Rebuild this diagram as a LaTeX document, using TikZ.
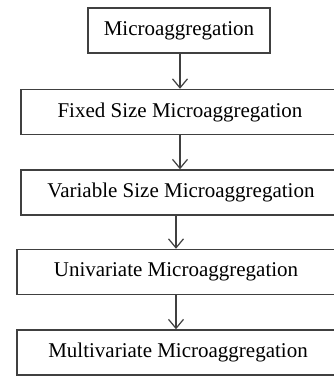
\documentclass[tikz,border=0pt]{standalone}
\usepackage{fontspec}
\setmainfont{Liberation Serif}
\usetikzlibrary{arrows.meta}
\definecolor{boxline}{HTML}{404040}
\tikzset{
  level box/.style={
    rectangle,
    draw=boxline,
    line width=1.5pt,
    minimum width=#1,
    minimum height=45pt,
    anchor=center,
    align=center,
    inner sep=0pt,
    font=\fontsize{21}{25}\selectfont,
  },
  level box/.default=318pt,
  level arrow/.style={
    draw=boxline,
    line width=1.2pt,
    -{Straight Barb[length=9pt,width=15pt]}
  }
}

\begin{document}
\begin{tikzpicture}[x=1pt,y=-1pt]
\useasboundingbox (0,0) rectangle (334,376);
\clip (0,0) rectangle (334,376);
\node[level box=182pt] (micro)  at (179,30.5) {Microaggregation};
\node[level box=318pt] (fixed)  at (180,112)  {Fixed Size Microaggregation};
\node[level box=320pt] (var)    at (181,192.5) {Variable Size Microaggregation};
\node[level box=318pt] (uni)    at (176,272)  {Univariate Microaggregation};
\node[level box=322pt] (multi)  at (178,352.5) {Multivariate Microaggregation};
% arrows between levels
\draw[level arrow] (micro.south -| fixed.north) -- (fixed.north);
\draw[level arrow] (fixed.south) -- (fixed.south |- var.north);
\draw[level arrow] (var.south -| uni.north) -- (uni.north);
\draw[level arrow] (uni.south) -- (uni.south |- multi.north);
\end{tikzpicture}
\end{document}
